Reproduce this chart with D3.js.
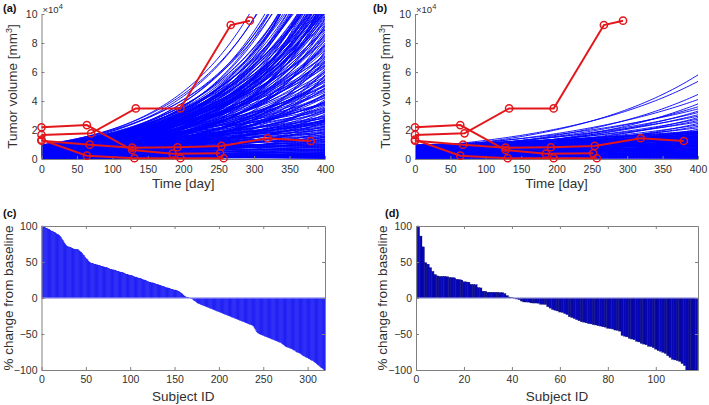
<!DOCTYPE html>
<html>
<head>
<meta charset="utf-8">
<script src="https://cdnjs.cloudflare.com/ajax/libs/d3/7.8.5/d3.min.js"></script>
<style>
body { margin: 0; background: #fff; }
</style>
</head>
<body>
<script>
// observed patients (red), days and volume in units of 1e4 mm^3
var p1Days = [0, 64, 128, 185, 252], p1Vol = [2.19, 2.34, 0.62, 0.37, 0.39];
var p2Days = [0, 70, 133, 196, 267, 294], p2Vol = [1.66, 1.77, 3.49, 3.49, 9.24, 9.54];
var p3Days = [0, 68, 128, 192, 254, 319, 380], p3Vol = [1.26, 0.99, 0.78, 0.81, 0.9, 1.43, 1.24];
var p4Days = [0, 64, 131, 196, 257], p4Vol = [1.33, 0.23, 0.05, 0.05, 0.05];

// simulated curves (a): volume at day 0 and at day 400 (1e4 mm^3)
var startA = [0.9, 0.85, 0.95, 0.76, 0.8, 0.93, 0.6, 0.98, 0.68, 0.85, 0.8, 0.62, 0.92, 0.7, 0.84, 0.88, 0.48, 0.75, 0.72, 0.65,
  0.52, 0.95, 0.6, 0.82, 0.45, 0.7, 0.55, 0.9, 0.4, 0.78, 0.5, 0.66, 0.7, 0.86, 0.58,
  0.42, 0.6, 0.74, 0.35, 0.9, 0.55, 0.68, 0.3, 0.82, 0.5, 0.64, 0.38, 0.78, 0.46, 0.58, 0.88, 0.34, 0.72, 0.52, 0.62,
  0.44, 0.66, 0.8, 0.28, 0.7, 0.95, 0.36, 0.56, 0.86, 0.4, 0.76, 0.32, 0.6, 0.48, 0.84, 0.54, 0.7, 0.96, 0.26, 0.92,
  0.7, 0.95, 0.5, 0.85, 0.4, 0.75, 0.9, 0.35, 0.65, 0.8, 0.45, 0.97, 0.55, 0.3, 0.72, 0.88, 0.25, 0.6, 0.82, 0.42,
  0.68, 0.2, 0.9, 0.5, 0.75, 0.33, 0.62, 0.85, 0.18, 0.55, 0.78, 0.4, 0.95, 0.28, 0.6, 0.7, 0.15, 0.5, 0.82, 0.38,
  0.65, 0.92, 0.22, 0.45, 0.74, 0.58, 0.3, 0.87, 0.12, 0.52,
  0.6, 0.3, 0.88, 0.45, 0.72, 0.2, 0.55, 0.94, 0.38, 0.66, 0.14, 0.8, 0.48, 0.26, 0.9, 0.58, 0.36, 0.76, 0.1, 0.62,
  0.44, 0.84, 0.3, 0.7, 0.52, 0.16, 0.96, 0.4, 0.68, 0.24, 0.5, 0.82, 0.34, 0.64, 0.92, 0.22, 0.56, 0.78, 0.42, 0.86,
  0.28, 0.6, 0.74, 0.46, 0.98, 0.18, 0.66, 0.36, 0.54, 0.88,
  0.8, 0.35, 0.95, 0.6, 0.15, 0.72, 0.5, 0.9, 0.28, 0.66, 0.85, 0.42, 0.1, 0.78, 0.55, 0.97, 0.32, 0.7, 0.2, 0.88,
  0.46, 0.62, 0.08, 0.8, 0.38, 0.94, 0.52, 0.25, 0.74, 0.6, 0.44, 0.9, 0.18, 0.66, 0.3, 0.82, 0.5, 0.12, 0.58, 0.76,
  0.36, 0.92, 0.22, 0.48, 0.64, 0.06, 0.4, 0.86, 0.26, 0.54, 0.7, 0.16, 0.34, 0.96, 0.45, 0.05, 0.62, 0.28, 0.8, 0.14,
  0.5, 0.38, 0.9, 0.24, 0.7, 0.04, 0.3, 0.56, 0.03, 0.84, 0.2, 0.02, 0.1, 0.46, 0.08];
var endA = [24, 22, 21, 20, 19, 18, 17.5, 17, 16.5, 16, 15.5, 15, 14.8, 14.2, 14, 13.6, 13.4, 13.1, 13, 12.8,
  12.5, 12.4, 12.1, 11.8, 11.8, 11.5, 11.2, 11, 10.9, 10.8, 10.6, 10.4, 10.3, 10.2, 10.1,
  10.05, 10.15, 10.25, 10.35, 10.5, 10.7, 10.9, 11.1, 11.3, 11.6, 11.9, 12.2, 12.6, 12.9, 13.3, 13.8, 14.4, 15.1, 15.8, 16.8,
  17.8, 19.5, 10.45, 10.75, 11.05, 11.4, 11.7, 12.0, 12.3, 12.7, 13.2, 13.7, 14.6, 15.4, 16.2, 17.2, 18.5, 10.65, 11.25, 12.45,
  9.8, 9.5, 9.3, 9.0, 8.8, 8.5, 8.3, 8.0, 7.8, 7.6, 7.3, 7.1, 6.9, 6.7, 6.5, 6.3, 6.1, 5.9, 5.7, 5.5,
  5.3, 5.2, 5.0, 4.8, 4.7, 4.5, 4.4, 4.2, 4.1, 3.9, 3.8, 3.7, 3.5, 3.4, 3.3, 3.2, 3.1, 3.0, 2.95, 2.9,
  2.85, 2.8, 2.75, 2.7, 2.68, 2.65, 2.62, 2.6, 2.58, 2.55,
  9.9, 9.65, 9.4, 9.15, 8.9, 8.65, 8.4, 8.15, 7.9, 7.7, 7.45, 7.2, 7.0, 6.8, 6.6, 6.4, 6.2, 6.0, 5.8, 5.6,
  5.4, 5.1, 4.9, 4.6, 4.35, 4.0, 3.85, 3.6, 3.45, 3.25, 9.7, 9.0, 8.2, 7.5, 6.75, 6.05, 5.45, 4.85, 4.25, 3.75,
  9.2, 8.6, 7.85, 7.05, 6.45, 5.75, 5.05, 4.45, 3.95, 3.35,
  2.5, 2.45, 2.4, 2.35, 2.3, 2.25, 2.2, 2.15, 2.1, 2.05, 2.0, 1.95, 1.9, 1.85, 1.8, 1.75, 1.7, 1.65, 1.6, 1.55,
  1.5, 1.45, 1.4, 1.35, 1.3, 1.25, 1.2, 1.15, 1.1, 1.05, 1.0, 0.96, 0.92, 0.88, 0.84, 0.8, 0.76, 0.72, 0.68, 0.64,
  0.6, 0.56, 0.52, 0.48, 0.45, 0.42, 0.39, 0.36, 0.33, 0.3, 0.28, 0.26, 0.24, 0.22, 0.2, 0.18, 0.16, 0.14, 0.12, 0.1,
  0.09, 0.08, 0.07, 0.06, 0.05, 0.45, 0.7, 1.2, 0.3, 0.9, 1.5, 0.15, 0.6, 1.0, 0.25];

// simulated curves (b)
var startB = [0.7, 0.8, 0.6, 0.75, 0.5, 0.68, 0.82, 0.55, 0.72, 0.62, 0.78, 0.45, 0.66, 0.58, 0.74, 0.4, 0.64, 0.52, 0.7, 0.35,
  0.9, 0.35, 0.75, 0.5, 0.95, 0.2, 0.65, 0.82, 0.42, 0.7, 0.58, 0.88, 0.3, 0.78, 0.48, 0.98, 0.15, 0.62, 0.85, 0.4,
  0.72, 0.26, 0.92, 0.54, 0.68, 0.1, 0.8, 0.45, 0.6, 0.96, 0.33, 0.76, 0.52, 0.86, 0.22, 0.66, 0.44, 0.94, 0.12, 0.7,
  0.56, 0.84, 0.3, 0.74, 0.5, 0.9, 0.18, 0.64, 0.38, 0.8, 0.6, 0.08, 0.46, 0.88, 0.28, 0.7, 0.52, 0.14, 0.76, 0.36,
  0.58, 0.92, 0.2, 0.66, 0.42, 0.06, 0.82, 0.32, 0.5, 0.74, 0.16, 0.6, 0.26, 0.9, 0.4, 0.05, 0.68, 0.3, 0.54, 0.12,
  0.78, 0.04, 0.95, 0.62, 0.86, 0.48, 0.34, 0.24, 0.9, 0.7, 0.5, 0.3, 0.4, 0.18, 0.8, 0.44, 0.6];
var endB = [5.8, 5.35, 4.45, 4.1, 3.8, 3.6, 3.45, 3.3, 3.2, 3.05, 2.95, 2.85, 2.75, 2.65, 2.55, 2.45, 2.35, 2.25, 2.15, 2.05,
  1.95, 1.92, 1.9, 1.87, 1.85, 1.82, 1.8, 1.77, 1.75, 1.72, 1.7, 1.67, 1.65, 1.62, 1.6, 1.57, 1.55, 1.52, 1.5, 1.47,
  1.45, 1.42, 1.4, 1.37, 1.35, 1.32, 1.3, 1.27, 1.25, 1.22, 1.2, 1.17, 1.15, 1.12, 1.1, 1.07, 1.05, 1.02, 1.0, 0.97,
  0.95, 0.92, 0.9, 0.87, 0.85, 0.82, 0.8, 0.77, 0.75, 0.72, 0.7, 0.67, 0.65, 0.62, 0.6, 0.57, 0.55, 0.52, 0.5, 0.47,
  0.45, 0.42, 0.4, 0.37, 0.35, 0.32, 0.3, 0.28, 0.26, 0.24, 0.22, 0.2, 0.18, 0.16, 0.14, 0.12, 0.1, 0.09, 0.08, 0.07,
  0.06, 0.05, 1.9, 1.6, 1.3, 1.0, 0.7, 0.4, 1.8, 1.5, 1.2, 0.9, 0.6, 0.3, 1.1, 0.85, 0.55];

// % change from baseline, sorted (c) 319 subjects
var changeC = [100, 99, 99, 98, 97, 97, 96, 95, 95, 94, 93, 93, 92, 91, 91, 90, 89, 88, 88, 87,
  86, 84, 82, 80, 78, 76, 74, 73, 72, 71, 71, 70, 70, 69, 69, 68, 68, 67, 67, 67,
  67, 66, 65, 64, 63, 62, 60, 59, 57, 55, 54, 53, 51, 50, 49, 48, 48, 48, 47, 47,
  47, 46, 46, 45, 45, 45, 44, 44, 44, 43, 43, 42, 42, 42, 41, 41, 40, 40, 40, 39,
  39, 39, 38, 38, 37, 37, 37, 36, 36, 35, 35, 35, 34, 34, 33, 33, 33, 32, 32, 31,
  31, 31, 30, 30, 29, 29, 29, 28, 28, 27, 27, 27, 26, 26, 25, 25, 24, 24, 23, 23,
  22, 22, 22, 21, 21, 21, 20, 20, 19, 19, 19, 18, 18, 17, 17, 16, 16, 16, 15, 15,
  14, 14, 14, 13, 13, 12, 12, 12, 11, 11, 11, 10, 10, 9, 9, 8, 7, 6, 5, 4,
  3, 2, 1.5, 1, 0.5, 0.3, 0, -0.3, -0.6, -1, -2, -3, -4, -5, -6, -7, -7.5, -8, -8.5, -9,
  -9.5, -10, -10.5, -11, -11.5, -12, -12.5, -13, -13.5, -14, -14.5, -15, -15.5, -16, -16.5, -17, -17.5, -18, -18.5, -19,
  -19.5, -20, -20.5, -21, -21.5, -22, -22.5, -23, -23.5, -24, -24.5, -25, -25.5, -26, -26.5, -27, -27.5, -28, -28.5, -29,
  -29.5, -30, -30.5, -31, -31.5, -32, -32.5, -33, -33.5, -34, -34.5, -35, -35.5, -36, -36.5, -37, -37.5, -38, -39, -41,
  -43, -45, -47, -48.5, -49, -50, -50.5, -51, -51.5, -52, -52.5, -53, -53.5, -54, -54.5, -55, -55.5, -56, -56.5, -57,
  -57.5, -58, -58.5, -59, -59.5, -60, -60.5, -61, -61.5, -62, -63, -64, -65, -66, -67, -67.5, -68, -68.5, -69, -69.5,
  -70, -70.5, -71, -72, -72.5, -73, -74, -75, -75.5, -76, -76.5, -77, -78, -79, -80, -80.5, -81, -82, -82.5, -83,
  -84, -84.5, -85, -86, -86.5, -87, -88, -89, -90, -91, -92, -93, -94, -95, -96, -97, -98, -99, -100];

// % change from baseline, sorted (d) 117 subjects
var changeD = [100, 86, 71, 49, 47, 42, 37, 32.5, 30.7, 30, 30, 30, 29.5, 28.5, 28.4, 28, 26, 25.6, 25, 22.5,
  22.3, 22, 19, 18.6, 18.5, 14.5, 14, 9.5, 9.3, 8, 8, 7.9, 7.9, 7.8, 7.5, 7.5, 6, 3.3, 1.4, 0.5,
  -0.5, -1.4, -2.3, -4.2, -5.5, -5.6, -5.7, -6.8, -7, -7, -7.2, -8.6, -8.8, -9, -12, -14, -16, -17, -18, -19.5,
  -20, -21.5, -23, -26, -27, -28.5, -30, -31.5, -33, -33.5, -34.5, -35.5, -36, -37, -37.5, -38.5, -39, -40, -40.5, -42,
  -42.5, -43, -44.5, -45, -46, -52, -53, -54, -56, -57, -58, -60, -61, -63, -64, -65, -67, -67.5, -69, -71,
  -73, -74, -75.5, -77, -80, -82.5, -85, -86, -87, -88, -91, -94, -100, -100, -100, -100, -100];

var timeTicks = [0, 50, 100, 150, 200, 250, 300, 350, 400];
var volTicks = [0, 2, 4, 6, 8, 10];
var pctTicks = [-100, -50, 0, 50, 100];
var subjTicksC = [0, 50, 100, 150, 200, 250, 300];
var subjTicksD = [0, 20, 40, 60, 80, 100];

var width = 709, height = 405;
var fontFam = "Arial, 'Liberation Sans', Helvetica, sans-serif";
var axisColor = "#808080", textColor = "#303030";
var redColor = "#e3161b";

var svg = d3.select("body").append("svg")
    .attr("width", width)
    .attr("height", height);

var trajectories = [[p1Days, p1Vol], [p2Days, p2Vol], [p3Days, p3Vol], [p4Days, p4Vol]];
var sampleDays = d3.range(0, 401, 4);

function styleAxis(g) {
  g.attr("font-family", fontFam).attr("font-size", 10.5);
  g.select(".domain").attr("stroke", axisColor);
  g.selectAll(".tick line").attr("stroke", axisColor);
  g.selectAll(".tick text").attr("fill", textColor);
}

function panelLabel(x, y, s) {
  svg.append("text").attr("x", x).attr("y", y)
    .attr("font-family", fontFam).attr("font-size", 11).attr("font-weight", "bold")
    .attr("fill", "#111").text(s);
}

function yLabel(x, y, s, sup, tail) {
  var t = svg.append("text")
    .attr("transform", "translate(" + x + "," + y + ") rotate(-90)")
    .attr("text-anchor", "middle")
    .attr("font-family", fontFam).attr("font-size", 13.5)
    .attr("fill", textColor).text(s);
  if (sup) {
    t.append("tspan").attr("dy", -5).attr("font-size", 9).text(sup);
    t.append("tspan").attr("dy", 5).text(tail);
  }
}

//growth curve panels
function curvePanel(left, right, letter, starts, ends) {
  var top = 14, bottom = 159;
  var x = d3.scaleLinear().domain([0, 400]).range([left, right]);
  var y = d3.scaleLinear().domain([0, 10]).range([bottom, top]);

  svg.append("clipPath").attr("id", "clip" + letter)
    .append("rect")
    .attr("x", left).attr("y", top)
    .attr("width", right - left).attr("height", bottom - top);

  var curves = starts.map(function(v0, i) {
    var v1 = ends[i];
    return sampleDays.map(function(t) { return [t, v0 * Math.pow(v1 / v0, t / 400)]; });
  });

  var line = d3.line()
    .x(function(d) { return x(d[0]); })
    .y(function(d) { return y(d[1]); });

  svg.append("g")
    .attr("clip-path", "url(#clip" + letter + ")")
    .selectAll("path")
    .data(curves)
    .enter().append("path")
    .attr("d", line)
    .attr("fill", "none")
    .attr("stroke", "#0000ff")
    .attr("stroke-width", 0.9);

  var gx = svg.append("g")
    .attr("transform", "translate(0," + bottom + ")")
    .call(d3.axisBottom(x).tickValues(timeTicks).tickSizeInner(-3).tickSizeOuter(0).tickPadding(7));
  styleAxis(gx);
  var gy = svg.append("g")
    .attr("transform", "translate(" + left + ",0)")
    .call(d3.axisLeft(y).tickValues(volTicks).tickSizeInner(-3).tickSizeOuter(0).tickPadding(4));
  styleAxis(gy);

  // observed tumours
  var red = svg.append("g");
  trajectories.forEach(function(tr) {
    var pts = tr[0].map(function(d, i) { return [d, tr[1][i]]; });
    red.append("path")
      .attr("d", line(pts))
      .attr("fill", "none")
      .attr("stroke", redColor)
      .attr("stroke-width", 2);
    red.selectAll(null)
      .data(pts)
      .enter().append("circle")
      .attr("cx", function(d) { return x(d[0]); })
      .attr("cy", function(d) { return y(d[1]); })
      .attr("r", 3.6)
      .attr("fill", "none")
      .attr("stroke", redColor)
      .attr("stroke-width", 1.5);
  });

  // x10^4 multiplier
  var m = svg.append("text").attr("x", left + 1).attr("y", 13)
    .attr("font-family", fontFam).attr("font-size", 9.5).attr("fill", textColor).text("\u00d710");
  m.append("tspan").attr("dy", -4).attr("font-size", 7.5).text("4");

  svg.append("text")
    .attr("x", (left + right) / 2).attr("y", 188)
    .attr("text-anchor", "middle")
    .attr("font-family", fontFam).attr("font-size", 13.5)
    .attr("fill", textColor).text("Time [day]");
  yLabel(left - 25, (top + bottom) / 2, "Tumor volume [mm", "3", "]");
}

//waterfall panels
function barPanel(left, right, letter, vals, xTicks, fill, edge, edgeW) {
  var top = 226, bottom = 370;
  var x = d3.scaleLinear().domain([0, vals.length + 0.6]).range([left, right]);
  var y = d3.scaleLinear().domain([-100, 100]).range([bottom, top]);

  svg.append("g")
    .selectAll("rect")
    .data(vals)
    .enter().append("rect")
    .attr("x", function(d, i) { return x(i + 0.5); })
    .attr("width", function(d, i) { return x(i + 1.5) - x(i + 0.5); })
    .attr("y", function(d) { return y(Math.max(0, d)); })
    .attr("height", function(d) { return Math.abs(y(d) - y(0)); })
    .attr("fill", fill)
    .attr("stroke", edge)
    .attr("stroke-width", edgeW);

  svg.append("line")
    .attr("x1", left).attr("x2", right)
    .attr("y1", y(0)).attr("y2", y(0))
    .attr("stroke", "#a9a9ee").attr("stroke-width", 1.2);

  var gx = svg.append("g").attr("transform", "translate(0," + bottom + ")")
    .call(d3.axisBottom(x).tickValues(xTicks).tickSizeInner(-3).tickSizeOuter(0).tickPadding(6));
  styleAxis(gx);
  var gt = svg.append("g").attr("transform", "translate(0," + top + ")")
    .call(d3.axisTop(x).tickValues(xTicks).tickFormat("").tickSizeInner(-3).tickSizeOuter(0));
  styleAxis(gt);
  var gy = svg.append("g").attr("transform", "translate(" + left + ",0)")
    .call(d3.axisLeft(y).tickValues(pctTicks).tickSizeInner(-3).tickSizeOuter(0).tickPadding(4));
  styleAxis(gy);
  var gr = svg.append("g").attr("transform", "translate(" + right + ",0)")
    .call(d3.axisRight(y).tickValues(pctTicks).tickFormat("").tickSizeInner(-3).tickSizeOuter(0));
  styleAxis(gr);

  svg.append("text")
    .attr("x", (left + right) / 2).attr("y", 401)
    .attr("text-anchor", "middle")
    .attr("font-family", fontFam).attr("font-size", 13.5)
    .attr("fill", textColor).text("Subject ID");
  yLabel(left - 29, (top + bottom) / 2, "% change from baseline");
}

curvePanel(41.5, 325, "a", startA, endA);
curvePanel(415, 698, "b", startB, endB);
barPanel(41.5, 325, "c", changeC, subjTicksC, "#1c1cf5", "#1c1cf5", 0.4);
barPanel(416, 698, "d", changeD, subjTicksD, "#0707b8", "#000066", 0.35);

panelLabel(3, 12, "(a)");
panelLabel(373, 12, "(b)");
panelLabel(3, 217, "(c)");
panelLabel(385, 217, "(d)");
</script>
</body>
</html>
